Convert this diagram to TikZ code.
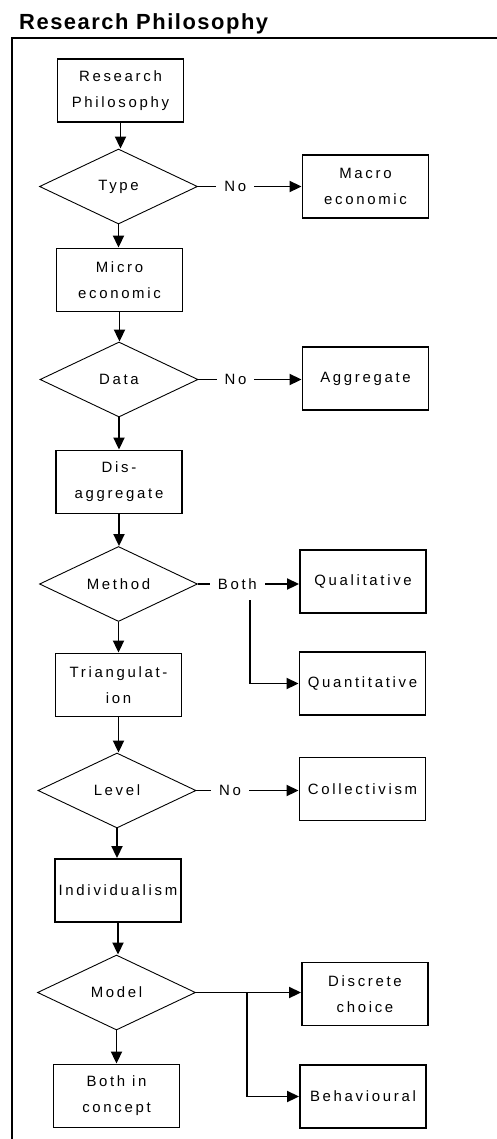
\documentclass[tikz,border=0pt]{standalone}
\usepackage{fontspec}
\setmainfont{Liberation Sans}
\newfontfamily\boxfont{Liberation Sans}[LetterSpace=18]
\newfontfamily\titlefont{Liberation Sans}[LetterSpace=7]
\usetikzlibrary{shapes.geometric,arrows.meta}

\begin{document}
\begin{tikzpicture}[x=1bp,y=-1bp,
  txt/.style={font=\boxfont\fontsize{15}{26}\selectfont},
  stepbox/.style={txt, draw, line width=1.9bp, minimum width=126bp,
    minimum height=63bp, align=center, inner sep=0pt},
  decision/.style={txt, draw, diamond, line width=0.9bp, minimum width=158bp,
    minimum height=75bp, shape aspect=2.1, inner sep=0pt},
  flow/.style={line width=1.9bp, -{Triangle[length=12bp,width=11bp]}},
  lbl/.style={txt, fill=white, inner xsep=8bp, inner ysep=2bp}]

\useasboundingbox (0,0) rectangle (497,1139);

% heading and frame
\node[anchor=base west, inner sep=0pt, font=\titlefont\bfseries\fontsize{22}{25}\selectfont]
  (title) at (19,29) {Research Philosophy};
\draw[line width=2.4bp] (12,1139) -- (12,38) -- (497,38);

% main column
\node[stepbox]  (rp)    at (120.5,90.5)  {Research\\Philosophy};
\node[decision] (type)  at (118.5,186.5) {Type};
\node[stepbox]  (micro) at (119.5,280)   {Micro\\economic};
\node[decision] (data)  at (119,379.5)   {Data};
\node[stepbox]  (dis)   at (119,482)     {Dis-\\aggregate};
\node[decision] (meth)  at (118.5,584)   {Method};
\node[stepbox]  (tri)   at (118.5,685)   {Triangulat-\\ion};
\node[decision] (level) at (117,790.5)   {Level};
\node[stepbox]  (indiv) at (118,890.5)   {Individualism};
\node[decision] (model) at (116.5,992.5) {Model};
\node[stepbox]  (bothc) at (116.5,1096)  {Both in\\concept};

% outcomes
\node[stepbox] (macro) at (365.5,186.5) {Macro\\economic};
\node[stepbox] (aggr)  at (365.5,378.5) {Aggregate};
\node[stepbox] (qual)  at (363,581.5)   {Qualitative};
\node[stepbox] (quant) at (362.5,683.5) {Quantitative};
\node[stepbox] (coll)  at (362.5,789)   {Collectivism};
\node[stepbox] (disc)  at (365,994)     {Discrete\\choice};
\node[stepbox] (beh)   at (363,1096.5)  {Behavioural};

% downward flow
\draw[flow] (rp.south)    -- (rp.south |- type.north);
\draw[flow] (type.south)  -- (type.south |- micro.north);
\draw[flow] (micro.south) -- (micro.south |- data.north);
\draw[flow] (data.south)  -- (data.south |- dis.north);
\draw[flow] (dis.south)   -- (dis.south |- meth.north);
\draw[flow] (meth.south)  -- (meth.south |- tri.north);
\draw[flow] (tri.south)   -- (tri.south |- level.north);
\draw[flow] (level.south) -- (level.south |- indiv.north);
\draw[flow] (indiv.south) -- (indiv.south |- model.north);
\draw[flow] (model.south) -- (model.south |- bothc.north);

% side branches
\draw[flow] (type.east)  -- node[lbl, pos=0.36] {No}   (type.east -| macro.west);
\draw[flow] (data.east)  -- node[lbl, pos=0.36] {No}   (data.east -| aggr.west);
\draw[flow] (meth.east)  -- node[lbl, pos=0.39] (bothlbl) {Both} (meth.east -| qual.west);
\draw[flow] (level.east) -- node[lbl, pos=0.33] {No}   (level.east -| coll.west);

\coordinate (qsplit) at (250,600);
\draw[flow] (qsplit) |- (quant.west);

\draw[flow] (model.east) -- (model.east -| disc.west);
\coordinate (msplit) at (247,992.5);
\draw[flow] (msplit) |- (beh.west);

\end{tikzpicture}
\end{document}
